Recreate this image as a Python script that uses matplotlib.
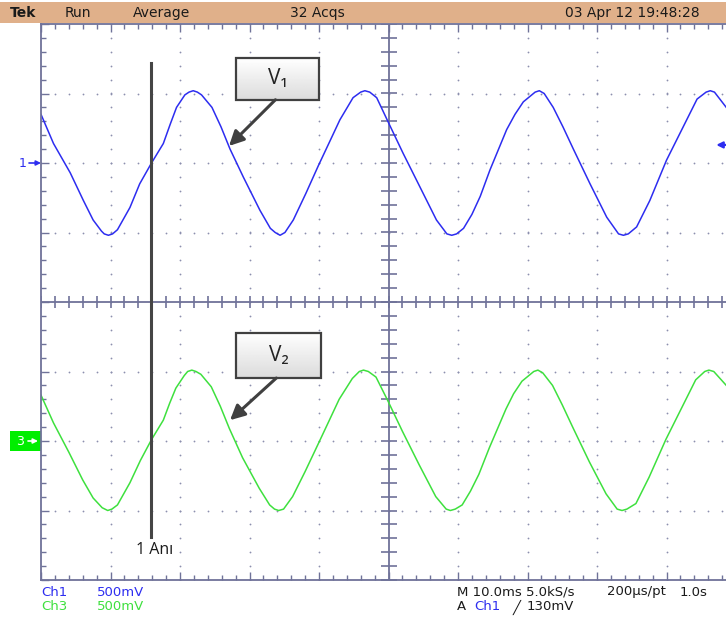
import matplotlib.pyplot as plt
from matplotlib.patches import Rectangle
from matplotlib.transforms import blended_transform_factory
import numpy as np

# scope settings
time_per_div = 10.0        # ms / div
ch1_volts_per_div = 0.5
ch3_volts_per_div = 0.5
ch1_offset = 2.0           # screen divisions
ch3_offset = -2.0
trigger_level = 0.130      # V
cursor_t = 15.8            # ms

# Ch1 (V1) trace, ms / V
t1 = [0.0, 1.8, 4.2, 6.1, 7.5, 8.7, 9.1, 9.7, 10.3, 11.0, 12.8, 14.2, 15.9, 17.6,
      18.6, 19.5, 20.7, 21.3, 21.9, 22.5, 23.1, 24.6, 25.9, 27.2, 29.1, 31.5, 33.0,
      33.7, 34.4, 35.1, 36.3, 38.1, 39.9, 41.5, 43.0, 44.9, 46.0, 46.6, 47.3, 48.3,
      50.0, 52.1, 54.5, 56.9, 58.4, 59.1, 59.8, 60.8, 62.0, 63.2, 64.6, 67.0, 68.2,
      69.4, 71.1, 71.7, 72.4, 73.7, 75.1, 76.6, 79.0, 81.4, 83.1, 83.8, 84.5, 85.7,
      87.6, 90.0, 92.4, 94.4, 95.7, 96.3, 96.9, 98.6]
v1 = [0.35, 0.14, -0.07, -0.27, -0.41, -0.49, -0.51, -0.52, -0.51, -0.48, -0.32,
      -0.15, 0.00, 0.14, 0.28, 0.40, 0.49, 0.51, 0.52, 0.51, 0.49, 0.40, 0.26, 0.10,
      -0.10, -0.34, -0.47, -0.50, -0.52, -0.50, -0.41, -0.22, -0.02, 0.15, 0.31,
      0.47, 0.51, 0.52, 0.51, 0.47, 0.29, 0.07, -0.17, -0.41, -0.51, -0.52, -0.51,
      -0.47, -0.37, -0.24, -0.05, 0.24, 0.35, 0.44, 0.51, 0.52, 0.50, 0.40, 0.26,
      0.10, -0.15, -0.39, -0.51, -0.52, -0.51, -0.46, -0.27, 0.02, 0.26, 0.46, 0.51,
      0.52, 0.51, 0.40]

# Ch3 (V2) trace, ms / V
t3 = [0.0, 1.8, 4.0, 6.0, 7.5, 8.8, 9.2, 9.6, 10.2, 11.0, 12.8, 14.3, 15.9, 17.6,
      18.5, 19.4, 20.6, 21.1, 21.7, 22.3, 23.0, 24.5, 25.8, 27.1, 29.0, 31.4, 32.9,
      33.6, 34.2, 34.9, 36.2, 38.0, 39.8, 41.4, 42.9, 44.8, 45.8, 46.4, 47.1, 48.2,
      49.9, 52.0, 54.4, 56.8, 58.3, 58.9, 59.6, 60.6, 61.8, 63.0, 64.5, 66.9, 68.0,
      69.2, 70.9, 71.5, 72.2, 73.6, 75.0, 76.5, 78.9, 81.3, 82.9, 83.6, 84.3, 85.6,
      87.5, 89.9, 92.3, 94.2, 95.5, 96.1, 96.8, 98.6]
v3 = [0.33, 0.13, -0.08, -0.28, -0.41, -0.48, -0.49, -0.50, -0.49, -0.46, -0.30,
      -0.14, 0.01, 0.15, 0.27, 0.38, 0.47, 0.50, 0.51, 0.50, 0.48, 0.39, 0.25, 0.09,
      -0.12, -0.34, -0.46, -0.49, -0.50, -0.49, -0.40, -0.22, -0.03, 0.14, 0.30,
      0.45, 0.50, 0.51, 0.50, 0.46, 0.29, 0.07, -0.17, -0.40, -0.49, -0.50, -0.49,
      -0.46, -0.36, -0.24, -0.05, 0.23, 0.34, 0.43, 0.50, 0.51, 0.49, 0.40, 0.26,
      0.10, -0.15, -0.38, -0.49, -0.50, -0.49, -0.45, -0.26, 0.01, 0.25, 0.44, 0.50,
      0.51, 0.50, 0.40]

header = [("Tek", 10), ("Run", 65), ("Average", 133), ("32 Acqs", 290),
          ("03 Apr 12 19:48:28", 565)]

blue = '#2d2df0'
green = '#3ee03e'
frame_c = '#6f7299'
dark = '#404040'
narrow = ['Liberation Sans Narrow', 'DejaVu Sans']

W, H = 726, 622
fig = plt.figure(figsize=(W / 100, H / 100), dpi=100)
fig.patch.set_facecolor('white')

# header bar
fig.patches.append(Rectangle((0, 1 - 23 / H), 1, 21 / H, transform=fig.transFigure,
                             fc='#e0b08a', ec='none'))
for txt, px in header:
    fig.text(px / W, 1 - 13 / H, txt, fontsize=10, family=narrow, va='center',
             weight='bold' if txt == 'Tek' else 'normal', color='#1a1a1a')

ax = fig.add_axes([41 / W, 42 / H, 685 / W, 556 / H])
xmax = 685 / 69.5 * time_per_div
ax.set_xlim(0, xmax)
ax.set_ylim(-4, 4)
for s in ['left', 'top', 'bottom']:
    ax.spines[s].set_color(frame_c)
    ax.spines[s].set_linewidth(1.3)
ax.spines['right'].set_visible(False)
ax.set_xticks(np.arange(0, xmax, time_per_div))
ax.set_xticks(np.arange(0, xmax, time_per_div / 5), minor=True)
ax.set_yticks(np.arange(-4, 5, 1))
ax.set_yticks(np.arange(-4, 4.01, 0.2), minor=True)
ax.tick_params(which='both', direction='in', top=True, bottom=True, left=True,
               right=False, labelbottom=False, labelleft=False, color=frame_c, width=1)
ax.tick_params(which='major', length=6)
ax.tick_params(which='minor', length=3.5)

# graticule dots
xs = np.arange(0, xmax, time_per_div / 5)
ys = np.arange(-4, 4.01, 0.2)
for gx in np.arange(time_per_div, xmax, time_per_div):
    if abs(gx - 5 * time_per_div) > 1e-6:
        ax.plot(np.full(len(ys), gx), ys, ls='none', marker='o', ms=1.3,
                mec='none', mfc='#8c8fae')
for gy in range(-3, 4):
    if gy != 0:
        ax.plot(xs, np.full(len(xs), gy), ls='none', marker='o', ms=1.3,
                mec='none', mfc='#8c8fae')

# center cross with ticks
ax.axvline(5 * time_per_div, color=frame_c, lw=1.3)
ax.axhline(0, color=frame_c, lw=1.3)
ax.plot(xs, np.zeros(len(xs)), ls='none', marker='|', ms=9, mew=1.2, color=frame_c)
ax.plot(np.full(len(ys), 5 * time_per_div), ys, ls='none', marker='_', ms=11,
        mew=1.2, color=frame_c)

# traces
ax.plot(t1, np.array(v1) / ch1_volts_per_div + ch1_offset, color=blue, lw=1.1)
ax.plot(t3, np.array(v3) / ch3_volts_per_div + ch3_offset, color=green, lw=1.1)

# cursor line and label
ax.plot([cursor_t, cursor_t], [3.44, -3.38], color='#454545', lw=2.2, zorder=6)
ax.text(cursor_t + 0.6, -3.57, '1 Anı', fontsize=11.5, ha='center', va='center',
        color='#1a1a1a', family=['Open Sans', 'DejaVu Sans'])

# callouts
def callout(label, x0, y0, w, h, tip):
    grad = np.linspace(1.0, 0.86, 50)[:, None]
    ax.imshow(grad, cmap='gray', vmin=0, vmax=1, extent=[x0, x0 + w, y0, y0 + h],
              aspect='auto', zorder=7)
    ax.add_patch(Rectangle((x0, y0), w, h, fc='none', ec=dark, lw=1.6, zorder=8))
    ax.text(x0 + w / 2, y0 + h / 2, label, fontsize=15, ha='center', va='center',
            color='#222222', zorder=9, family=['Open Sans', 'DejaVu Sans'])
    ax.annotate('', xy=tip, xytext=(x0 + w / 2 - 0.3, y0), zorder=8,
                arrowprops=dict(arrowstyle='-|>', color=dark, lw=2.2,
                                mutation_scale=22, shrinkA=0, shrinkB=0))

callout('V₁', 28.06, 2.91, 11.94, 0.60, (27.05, 2.245))
callout('V₂', 28.06, -1.094, 12.2, 0.65, (27.2, -1.70))

# channel markers
ytr = blended_transform_factory(ax.transAxes, ax.transData)
ax.text(-18 / 685, ch1_offset, '1', transform=ytr, ha='center', va='center',
        color=blue, fontsize=9, family=narrow)
ax.annotate('', xy=(0, ch1_offset), xycoords=ytr, xytext=(-12 / 685, ch1_offset),
            textcoords=ytr, arrowprops=dict(arrowstyle='-|>', color=blue, lw=1.2,
                                            mutation_scale=7, shrinkA=0, shrinkB=0))
ax.add_patch(Rectangle((-31 / 685, ch3_offset - 10 / 69.5), 31 / 685, 20 / 69.5,
                       transform=ytr, fc='#00ee00', ec='none', clip_on=False))
ax.text(-21 / 685, ch3_offset, '3', transform=ytr, ha='center', va='center',
        color='white', fontsize=9, family=narrow)
ax.annotate('', xy=(-3 / 685, ch3_offset), xycoords=ytr,
            xytext=(-13 / 685, ch3_offset), textcoords=ytr,
            arrowprops=dict(arrowstyle='-|>', color='white', lw=1.2,
                            mutation_scale=7, shrinkA=0, shrinkB=0))

# trigger level marker
trig_y = ch1_offset + trigger_level / ch1_volts_per_div
ax.annotate('', xy=(xmax - 1.4, trig_y), xytext=(xmax, trig_y),
            arrowprops=dict(arrowstyle='-|>', color=blue, lw=1.6,
                            mutation_scale=9, shrinkA=0, shrinkB=0),
            annotation_clip=False)

# readout
def rd(px, py, txt, c='#1a1a1a'):
    fig.text(px / W, 1 - py / H, txt, fontsize=9.5, family=narrow, va='center',
             color=c)

rd(41, 592, 'Ch1', blue)
rd(97, 592, '500mV', blue)
rd(41, 607, 'Ch3', green)
rd(97, 607, '500mV', green)
rd(457, 592, 'M 10.0ms 5.0kS/s')
rd(607, 592, '200μs/pt')
rd(680, 592, '1.0s')
rd(457, 607, 'A')
rd(474, 607, 'Ch1', blue)
rd(513, 607, '╱')
rd(527, 607, '130mV')

fig.savefig('out.png', dpi=100)
